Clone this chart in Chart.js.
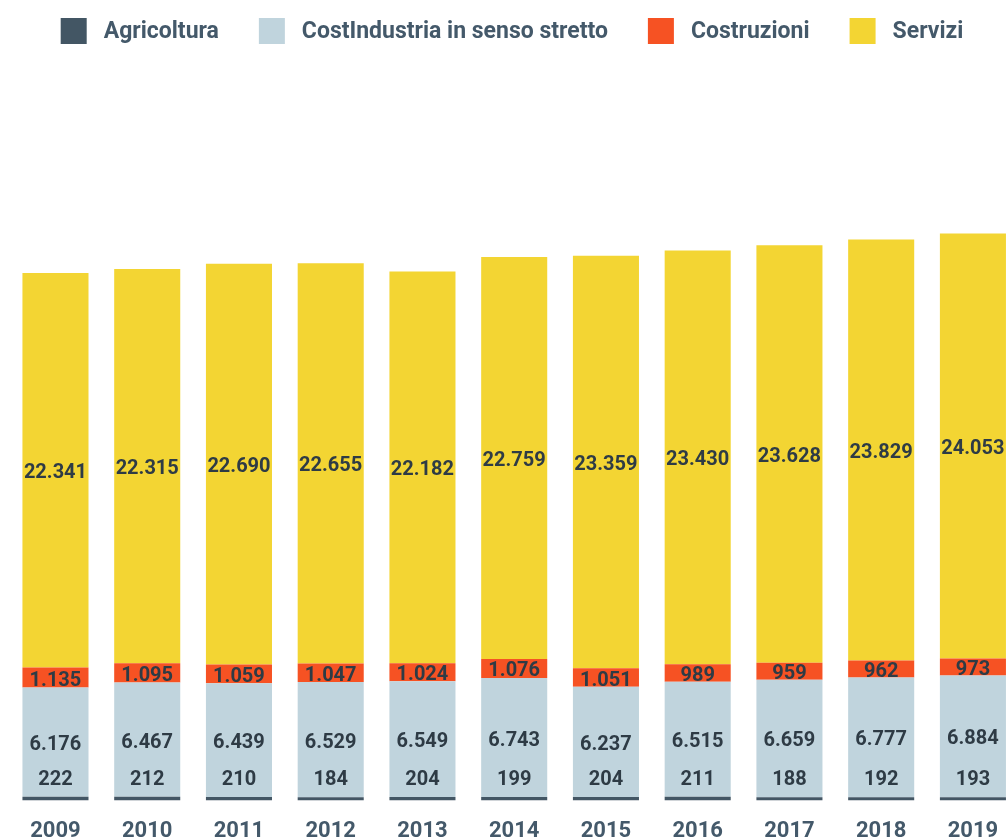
<!DOCTYPE html>
<html lang="it">
<head>
<meta charset="utf-8">
<title>Occupati per settore 2009-2019</title>
<script src="https://cdn.jsdelivr.net/npm/chart.js@4.4.1/dist/chart.umd.min.js"></script>
<style>
  html, body { margin: 0; padding: 0; background: #ffffff; overflow: hidden; }
  #wrap { position: absolute; left: 0; top: 0; width: 1020px; height: 863px; }
</style>
</head>
<body>
<div id="wrap"><canvas id="chart"></canvas></div>
<script>
// Anni
const years = ['2009', '2010', '2011', '2012', '2013', '2014', '2015', '2016', '2017', '2018', '2019'];

// Valori per settore
const agricoltura = [222, 212, 210, 184, 204, 199, 204, 211, 188, 192, 193];
const industria   = [6176, 6467, 6439, 6529, 6549, 6743, 6237, 6515, 6659, 6777, 6884];
const costruzioni = [1135, 1095, 1059, 1047, 1024, 1076, 1051, 989, 959, 962, 973];
const servizi     = [22341, 22315, 22690, 22655, 22182, 22759, 23359, 23430, 23628, 23829, 24053];

const seriesNames = ['Agricoltura', 'CostIndustria in senso stretto', 'Costruzioni', 'Servizi'];
const seriesColors = ['#435664', '#c0d4dd', '#f65223', '#f3d533'];

const FONT = 'Roboto, "Liberation Sans", sans-serif';
const LABEL_COLOR = '#2e3b45';
const AXIS_COLOR = '#44596a';

// Numeri con il punto come separatore delle migliaia
function fmt(v) {
  return String(v).replace(/\B(?=(\d{3})+(?!\d))/g, '.');
}

// Etichette dei valori dentro le barre
const valueLabels = {
  id: 'valueLabels',
  afterDatasetsDraw(chart) {
    const ctx = chart.ctx;
    ctx.save();
    ctx.font = 'bold 20px ' + FONT;
    ctx.fillStyle = LABEL_COLOR;
    ctx.textAlign = 'center';
    ctx.textBaseline = 'middle';
    chart.data.datasets.forEach((ds, di) => {
      const meta = chart.getDatasetMeta(di);
      meta.data.forEach((bar, i) => {
        const y = di === 0 ? bar.base - 22 : (bar.y + bar.base) / 2 + 2;
        ctx.fillText(fmt(ds.data[i]), bar.x, y + 1);
      });
    });
    ctx.restore();
  }
};

// Legenda in alto, centrata
const topLegend = {
  id: 'topLegend',
  afterDraw(chart) {
    const ctx = chart.ctx;
    ctx.save();
    ctx.font = 'bold 23px ' + FONT;
    const box = 26, gap = 17, spacing = 40;
    const widths = seriesNames.map(n => ctx.measureText(n).width);
    const total = widths.reduce((a, w) => a + box + gap + w, 0) + spacing * (seriesNames.length - 1);
    let x = 512 - total / 2;
    const top = 18;
    seriesNames.forEach((name, i) => {
      ctx.fillStyle = seriesColors[i];
      ctx.fillRect(x, top, box, box);
      ctx.fillStyle = AXIS_COLOR;
      ctx.textAlign = 'left';
      ctx.textBaseline = 'middle';
      ctx.fillText(name, x + box + gap, top + box / 2 + 1);
      x += box + gap + widths[i] + spacing;
    });
    ctx.restore();
  }
};

const seriesData = [agricoltura, industria, costruzioni, servizi];

new Chart(document.getElementById('chart'), {
  type: 'bar',
  data: {
    labels: years,
    datasets: seriesNames.map((name, i) => ({
      label: name,
      data: seriesData[i],
      backgroundColor: seriesColors[i],
      borderWidth: 0,
      categoryPercentage: 0.8,
      barPercentage: 0.9
    }))
  },
  options: {
    responsive: true,
    maintainAspectRatio: false,
    animation: false,
    layout: { padding: { top: 200, left: 9.6, right: 1.2, bottom: 0 } },
    plugins: {
      legend: { display: false },
      tooltip: { enabled: false }
    },
    scales: {
      x: {
        stacked: true,
        grid: { display: false, drawTicks: false },
        border: { display: false },
        ticks: {
          color: AXIS_COLOR,
          font: { family: FONT, size: 22, weight: 'bold' },
          padding: 18
        }
      },
      y: {
        stacked: true,
        display: false,
        min: 0,
        max: 34000
      }
    }
  },
  plugins: [valueLabels, topLegend]
});
</script>
</body>
</html>
